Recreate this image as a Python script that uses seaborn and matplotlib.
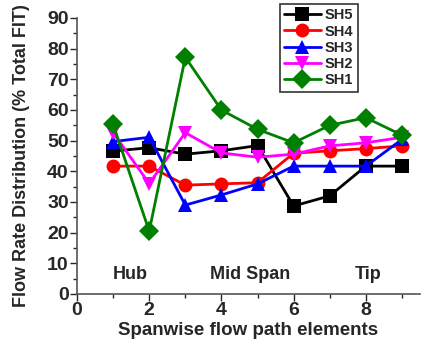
import numpy as np
import pandas as pd
import matplotlib
matplotlib.use("Agg")
import matplotlib.pyplot as plt
import seaborn as sns
from matplotlib.ticker import MultipleLocator

elements = [1, 2, 3, 4, 5, 6, 7, 8, 9]
sh5 = [46.6, 47.7, 45.6, 46.7, 48.4, 28.7, 32.0, 41.7, 41.7]
sh4 = [41.7, 41.7, 35.5, 35.9, 36.3, 45.9, 46.7, 47.4, 48.3]
sh3 = [49.7, 51.1, 29.0, 32.3, 35.9, 41.7, 41.7, 41.7, 50.4]
sh2 = [52.6, 36.0, 52.6, 46.0, 44.6, 45.6, 48.3, 49.3, 51.1]
sh1 = [55.3, 20.5, 77.2, 60.0, 53.7, 49.3, 55.0, 57.5, 51.8]
series_names = ["SH5", "SH4", "SH3", "SH2", "SH1"]
region_labels = ["Hub", "Mid Span", "Tip"]
region_x = [1.47, 4.8, 8.06]

df = pd.DataFrame({
    "x": elements * 5,
    "y": sh5 + sh4 + sh3 + sh2 + sh1,
    "s": sum([[n] * len(elements) for n in series_names], []),
})

sns.set_style("ticks")
plt.rcParams["font.family"] = ["Liberation Sans", "DejaVu Sans"]
plt.rcParams["font.weight"] = "bold"

fig = plt.figure(figsize=(4.22, 3.49), dpi=100)
ax = fig.add_axes([77 / 422, 55 / 349, 343 / 422, 276 / 349])

palette = {"SH5": "black", "SH4": "red", "SH3": "blue", "SH2": "magenta", "SH1": "green"}
markers = {"SH5": "s", "SH4": "o", "SH3": "^", "SH2": "v", "SH1": "D"}
sns.lineplot(data=df, x="x", y="y", hue="s", style="s", palette=palette,
             markers=markers, dashes=False, linewidth=2, markersize=10,
             markeredgewidth=0, ax=ax, hue_order=series_names, style_order=series_names)

ax.set_xlim(0, 9.5)
ax.set_ylim(0, 90)
ax.xaxis.set_major_locator(MultipleLocator(2))
ax.xaxis.set_minor_locator(MultipleLocator(1))
ax.yaxis.set_major_locator(MultipleLocator(10))
ax.yaxis.set_minor_locator(MultipleLocator(5))
for s in ["top", "right"]:
    ax.spines[s].set_visible(False)
for s in ["left", "bottom"]:
    ax.spines[s].set_color("#555555")
    ax.spines[s].set_linewidth(1.2)
ax.tick_params(which="major", length=5, width=1, direction="out", labelsize=14, pad=1)
ax.tick_params(which="minor", length=3, width=1, direction="out")
for lab in ax.get_xticklabels() + ax.get_yticklabels():
    lab.set_fontweight("bold")

ax.set_xlabel("Spanwise flow path elements", fontsize=13.5, fontweight="bold", labelpad=2)
ax.set_ylabel("Flow Rate Distribution (% Total FIT)", fontsize=13, fontweight="bold", labelpad=12)

for lab, xx in zip(region_labels, region_x):
    ax.text(xx, 6.5, lab, ha="center", va="center", fontsize=13, fontweight="bold")

leg = ax.legend(loc="upper right", bbox_to_anchor=(358 / 422, 1 - 4 / 349),
                bbox_transform=fig.transFigure, frameon=True, fancybox=False,
                prop={"weight": "bold", "size": 10.5}, handlelength=2.5,
                borderpad=0.3, labelspacing=0.15, handletextpad=0.3, borderaxespad=0)
leg.get_frame().set_edgecolor("black")
leg.get_frame().set_linewidth(1.2)
leg.set_title(None)

fig.savefig("out.png", dpi=100)
